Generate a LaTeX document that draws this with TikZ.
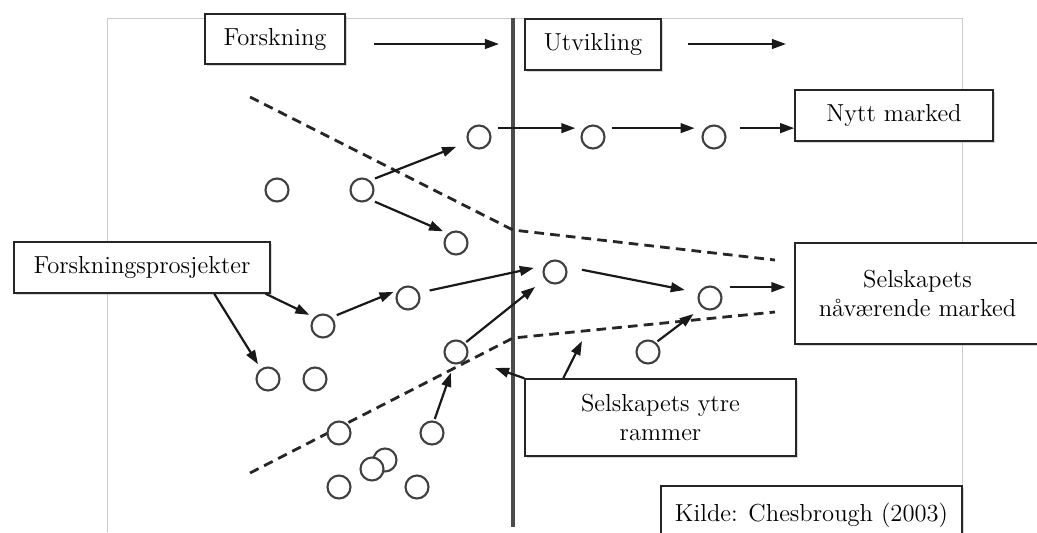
\documentclass[tikz,border=0pt]{standalone}
\usepackage{tikz}
\usetikzlibrary{arrows.meta,shadows,calc}

\begin{document}
\begin{tikzpicture}[x=0.02cm,y=-0.02cm]
        \tikzset{boks/.style={draw=black!85, line width=0.9pt, fill=white, align=center, inner sep=2pt,
                font=\fontsize{14}{16.5}\selectfont,
                drop shadow={opacity=0.3, shadow xshift=0.9pt, shadow yshift=-0.9pt}}}
        \tikzset{prosj/.style={circle, draw=black!75, fill=white, line width=1.2pt, minimum size=0.46cm, inner sep=0pt}}
        \tikzset{pil/.style={-{Triangle[length=8pt, width=5.5pt]}, line width=1.25pt, black!90, shorten <=3pt, shorten >=3pt}}
        \tikzset{ramme/.style={dash pattern=on 5.5pt off 3.5pt, line width=1.6pt, black!85}}

        \clip (0,0) rectangle (1037,532);
        \fill[white] (0,0) rectangle (1037,532);
        % bakgrunn og skille forskning/utvikling
        \draw[black!20, line width=0.5pt] (107,532) -- (107,18) -- (962,18) -- (962,532);
        \draw[black!70, line width=1.8pt] (513,18) -- (513,527);

        % selskapets grenser
        \draw[ramme] (250,97) -- (513,230) -- (775,260);
        \draw[ramme] (250,473) -- (513,338) -- (775,312);

        % prosjekter
        \node[prosj] (a1) at (277,190) {};
        \node[prosj] (a2) at (362,190) {};
        \node[prosj] (a3) at (479,137) {};
        \node[prosj] (a4) at (456,243) {};
        \node[prosj] (a5) at (593,137) {};
        \node[prosj] (a6) at (714,137) {};
        \node[prosj] (b1) at (323,326) {};
        \node[prosj] (b2) at (408,298) {};
        \node[prosj] (b3) at (456,352) {};
        \node[prosj] (b4) at (268,379) {};
        \node[prosj] (b5) at (315,379) {};
        \node[prosj] (b6) at (339,433) {};
        \node[prosj] (b7) at (432,433) {};
        \node[prosj] (b8) at (385,460) {};
        \node[prosj] (b9) at (372,469) {};
        \node[prosj] (b10) at (339,487) {};
        \node[prosj] (b11) at (417,487) {};
        \node[prosj] (b12) at (555,272) {};
        \node[prosj] (b13) at (710,298) {};
        \node[prosj] (b14) at (648,352) {};

        % bokser
        \node[boks, minimum width=2.8cm, minimum height=1.0cm] (fo) at (275,39) {Forskning};
        \node[boks, minimum width=2.72cm, minimum height=1.02cm] (ut) at (593,44.5) {Utvikling};
        \node[boks, minimum width=3.96cm, minimum height=1.02cm] (ny) at (894,115.5) {Nytt marked};
        \node[boks, minimum width=4.9cm, minimum height=2.02cm] (sel) at (917.5,293.5) {Selskapets\\nåværende marked};
        \node[boks, minimum width=5.42cm, minimum height=1.54cm] (ram) at (660.5,417.5) {Selskapets ytre\\rammer};
        \node[boks, minimum width=6.02cm, minimum height=1.16cm] (ki) at (811.5,515) {Kilde: Chesbrough (2003)};
        \node[boks, minimum width=5.12cm, minimum height=1.02cm] (fp) at (142,267.5) {Forskningsprosjekter};

        \coordinate (f1) at (374,44);
        \coordinate (f2) at (499,44);
        \coordinate (u1) at (688,44);
        \coordinate (u2) at (786,44);
        \coordinate (r1) at (495,368);
        \coordinate (r2) at (582,341);

        % piler
        \draw[pil, shorten <=0pt, shorten >=0pt] (f1) -- (f2);
        \draw[pil, shorten <=0pt, shorten >=0pt] (u1) -- (u2);
        \draw[pil, shorten >=7pt] (a2.50) -- (a3.205);
        \draw[pil] (a2.-50) -- (a4.130);
        \draw[pil, shorten <=6pt, shorten >=5pt] (a3.45) -- (a5.135);
        \draw[pil, shorten <=6pt, shorten >=6pt] (a5.45) -- (a6.135);
        \draw[pil, shorten <=10pt, shorten >=0pt] (a6.45) -- (a6.45 -| ny.west);
        \draw[pil, shorten <=0pt] (fp.-12) -- (b1.135);
        \draw[pil, shorten <=0pt] (fp.-20) -- (b4.125);
        \draw[pil] (b1.45) -- (b2.140);
        \draw[pil, shorten <=6pt, shorten >=6pt] (b2.25) -- (b12.150);
        \draw[pil, shorten <=1pt, shorten >=7pt] (b3.45) -- (b12.215);
        \draw[pil, shorten <=9pt, shorten >=8pt] (b12.25) -- (b13.155);
        \draw[pil, shorten <=8pt, shorten >=5pt] (b13.60) -- (b13.60 -| sel.west);
        \draw[pil, shorten <=1pt, shorten >=6pt] (b14.50) -- (b13.230);
        \draw[pil, shorten <=1pt, shorten >=5pt] (b7.80) -- (b3.260);
        \draw[pil, shorten <=0pt, shorten >=0pt] (ram.north west) -- (r1);
        \draw[pil, shorten <=0pt, shorten >=0pt] (ram.158) -- (r2);
\end{tikzpicture}
\end{document}
